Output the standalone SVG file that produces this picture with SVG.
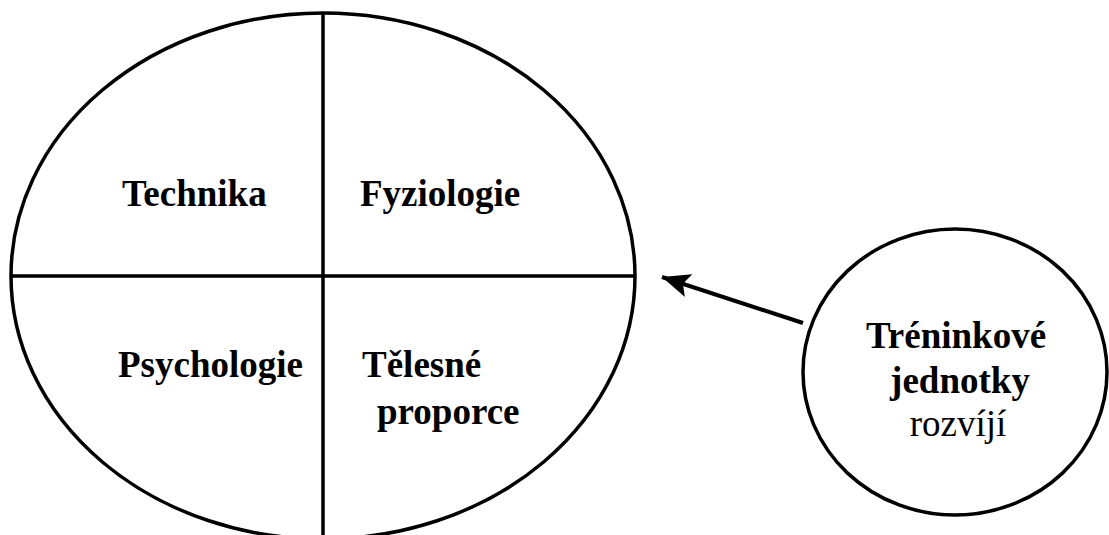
<svg xmlns="http://www.w3.org/2000/svg" width="1109" height="535" viewBox="0 0 1109 535">
<style>
.shape{fill:none;stroke:#000;stroke-width:3.5}
.t{font-family:"Liberation Serif","Times New Roman",serif;font-size:37px;fill:#000}
.b{font-weight:bold}
</style>
<defs>
<marker id="ah" markerUnits="userSpaceOnUse" markerWidth="30" markerHeight="30" viewBox="0 0 30 30" refX="28" refY="15" orient="auto">
<path d="M0,3 L28,15 L0,27 L6,15 Z" fill="#000"/>
</marker>
</defs>
<rect width="1109" height="535" fill="#fff"/>
<g id="main-ellipse">
<ellipse class="shape" cx="323" cy="276" rx="312" ry="263"/>
<line class="shape" x1="323" y1="13" x2="323" y2="535"/>
<line class="shape" x1="11" y1="276" x2="635" y2="276"/>
<text class="t b" x="122" y="206">Technika</text>
<text class="t b" x="360" y="206">Fyziologie</text>
<text class="t b" x="118" y="377">Psychologie</text>
<text class="t b" x="362" y="377">Tělesné</text>
<text class="t b" x="377" y="424">proporce</text>
</g>
<g id="training-units">
<ellipse class="shape" cx="955" cy="372" rx="152" ry="143"/>
<text class="t b" x="956" y="348" text-anchor="middle">Tréninkové</text>
<text class="t b" x="960" y="393" text-anchor="middle">jednotky</text>
<text class="t" x="958" y="436" text-anchor="middle">rozvíjí</text>
</g>
<g id="connectors">
<line x1="803" y1="323" x2="662" y2="277" stroke="#000" stroke-width="4" marker-end="url(#ah)"/>
</g>
</svg>
